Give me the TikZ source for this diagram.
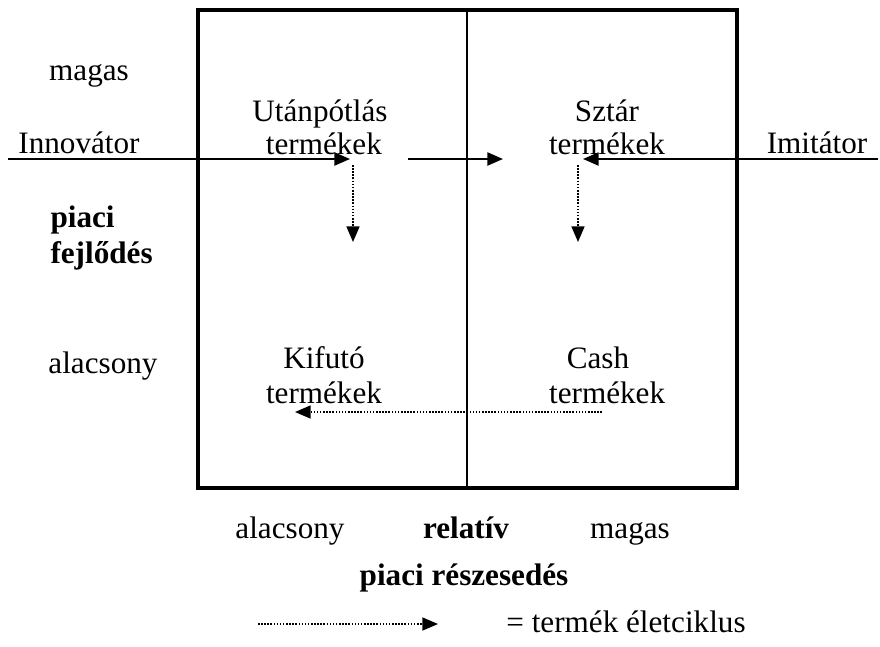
\documentclass[tikz,border=0pt]{standalone}
\usepackage{fontspec}
\setmainfont{Liberation Serif}
\usetikzlibrary{arrows.meta}
\begin{document}
\begin{tikzpicture}[x=0.385pt,y=-0.385pt,
		font=\fontsize{12}{12.6}\selectfont,
		txt/.style={align=center,inner sep=0pt,anchor=base},
		solidarr/.style={line width=0.8pt,-{Triangle[length=6pt,width=5pt]}},
		cyclearr/.style={line width=0.6pt,dash pattern=on 0.6pt off 0.6pt,-{Triangle[length=6pt,width=5pt]}}]
			\useasboundingbox (0,0) rectangle (880,646);
			\draw[line width=1.2pt] (198,10) rectangle (737,488);
			\draw[line width=0.8pt] (467,10) -- (467,488);

			\node[txt] (magasY) at (89,80) {magas};
			\node[txt] (innov) at (79,153) {Innovátor};
			\node[txt,align=left,anchor=base west,font=\fontsize{12}{13.5}\selectfont\bfseries] (fejl) at (50,263) {piaci\\fejlődés};
			\node[txt] (alacsY) at (103,373) {alacsony};
			\node[txt] (imit) at (817,153) {Imitátor};

			\node[txt] (utan) at (320,154) {Utánpótlás\\\hspace*{3pt}termékek};
			\node[txt] (sztar) at (607,154) {Sztár\\termékek};
			\node[txt,font=\fontsize{12}{13.1}\selectfont] (kifut) at (324,403) {Kifutó\\termékek};
			\node[txt,font=\fontsize{12}{13.1}\selectfont] (cash) at (598,403) {Cash\\\hspace*{7pt}termékek};

			\node[txt] (alacsX) at (290,538) {alacsony};
			\node[txt,font=\fontsize{12}{12.6}\selectfont\bfseries] (relat) at (466,538) {relatív};
			\node[txt] (magasX) at (630,538) {magas};
			\node[txt,font=\fontsize{12}{12.6}\selectfont\bfseries] (resz) at (464,585) {piaci részesedés};
			\node[txt] (jel) at (626,632) {= termék életciklus};

			\coordinate (innovA) at (8,159);
			\coordinate (innovB) at (350,159);
			\coordinate (midA) at (408,159);
			\coordinate (midB) at (503,159);
			\coordinate (imitA) at (878,159);
			\coordinate (imitB) at (583,159);
			\coordinate (utanA) at (353,165);
			\coordinate (utanB) at (353,242);
			\coordinate (sztarA) at (578,165);
			\coordinate (sztarB) at (578,242);
			\coordinate (cashA) at (602,412);
			\coordinate (kifutB) at (295,412);
			\coordinate (jelA) at (258,624);
			\coordinate (jelB) at (438,624);

			\draw[solidarr] (innovA) -- (innovB);
			\draw[solidarr] (midA) -- (midB);
			\draw[solidarr] (imitA) -- (imitB);
			\draw[cyclearr] (utanA) -- (utanB);
			\draw[cyclearr] (sztarA) -- (sztarB);
			\draw[cyclearr] (cashA) -- (kifutB);
			\draw[cyclearr] (jelA) -- (jelB);
		\end{tikzpicture}
\end{document}
